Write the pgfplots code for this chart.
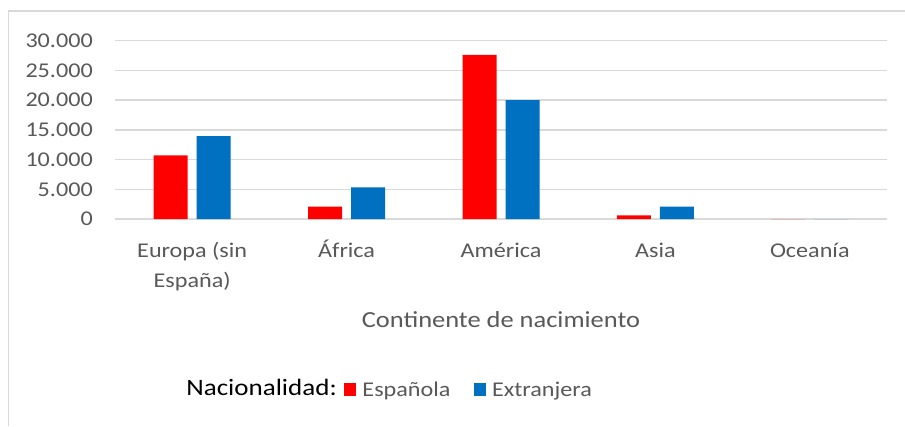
\documentclass[border=0pt]{standalone}
\usepackage{pgfplots}
\pgfplotsset{compat=1.18}
\usepackage{fontspec}
\setmainfont{Carlito}[FakeStretch=1.15]
\definecolor{esp}{HTML}{FF0000}
\definecolor{ext}{HTML}{0070C0}
\definecolor{txt}{HTML}{595959}
\definecolor{grd}{HTML}{D9D9D9}
\newcommand{\st}{\rule{0pt}{19pt}}
\begin{document}
\begin{tikzpicture}[x=1pt,y=1pt]
\path[fill=white, use as bounding box] (0,0) rectangle (905,426);
\draw[grd, line width=1.5pt] (8.5,0) -- (8.5,415) -- (906,415);
\begin{axis}[
  at={(115pt,207pt)}, anchor=south west,
  scale only axis, width=772pt, height=178.3pt,
  ybar=9pt, bar width=34pt,
  xmin=-0.5, xmax=4.5, ymin=0, ymax=30000,
  xtick={0,1,2,3,4},
  xticklabels={{\st Europa (sin\\España)}, {\st África}, {\st América}, {\st Asia}, {\st Oceanía}},
  ytick={0,5000,10000,15000,20000,25000,30000},
  axis line style={draw=none},
  major tick length=0pt,
  ymajorgrids, grid style={grd, line width=1.5pt},
  scaled y ticks=false,
  /pgf/number format/fixed,
  /pgf/number format/1000 sep={.},
  /pgf/number format/assume math mode=true,
  yticklabel style={font=\fontsize{21}{26}\selectfont, text=txt, anchor=east, inner sep=0pt, xshift=-22pt},
  xticklabel style={font=\fontsize{21}{30}\selectfont, text=txt, align=center, anchor=north, inner sep=0pt, yshift=-19pt},
  xlabel={Continente de nacimiento},
  xlabel style={at={(axis description cs:0.5,0)}, anchor=center, yshift=-101pt, font=\fontsize{23}{28}\selectfont, text=txt, inner sep=0pt},
  legend columns=2,
  legend style={at={(axis description cs:0.2966,-0.959)}, anchor=west, draw=none, fill=none,
    inner sep=0pt, outer sep=0pt, font=\fontsize{21}{26}\selectfont, text=txt,
    nodes={inner sep=0pt},
    /tikz/every odd column/.append style={column sep=6pt},
    /tikz/every even column/.append style={column sep=23pt}},
]
\addplot[fill=esp, draw=none, legend image code/.code={\fill[esp] (0pt,-6.5pt) rectangle (12.5pt,6.5pt);}]
  coordinates {(0,10718) (1,2070) (2,27594) (3,620) (4,0)};
\addplot[fill=ext, draw=none, legend image code/.code={\fill[ext] (0pt,-6.5pt) rectangle (12.5pt,6.5pt);}]
  coordinates {(0,13965) (1,5334) (2,20022) (3,2070) (4,0)};
\legend{Española, Extranjera}
\end{axis}
\node[anchor=base east, inner sep=0pt, font=\fontsize{23.5}{28}\selectfont, text=black] at (337,31) {Nacionalidad:};
\end{tikzpicture}
\end{document}
